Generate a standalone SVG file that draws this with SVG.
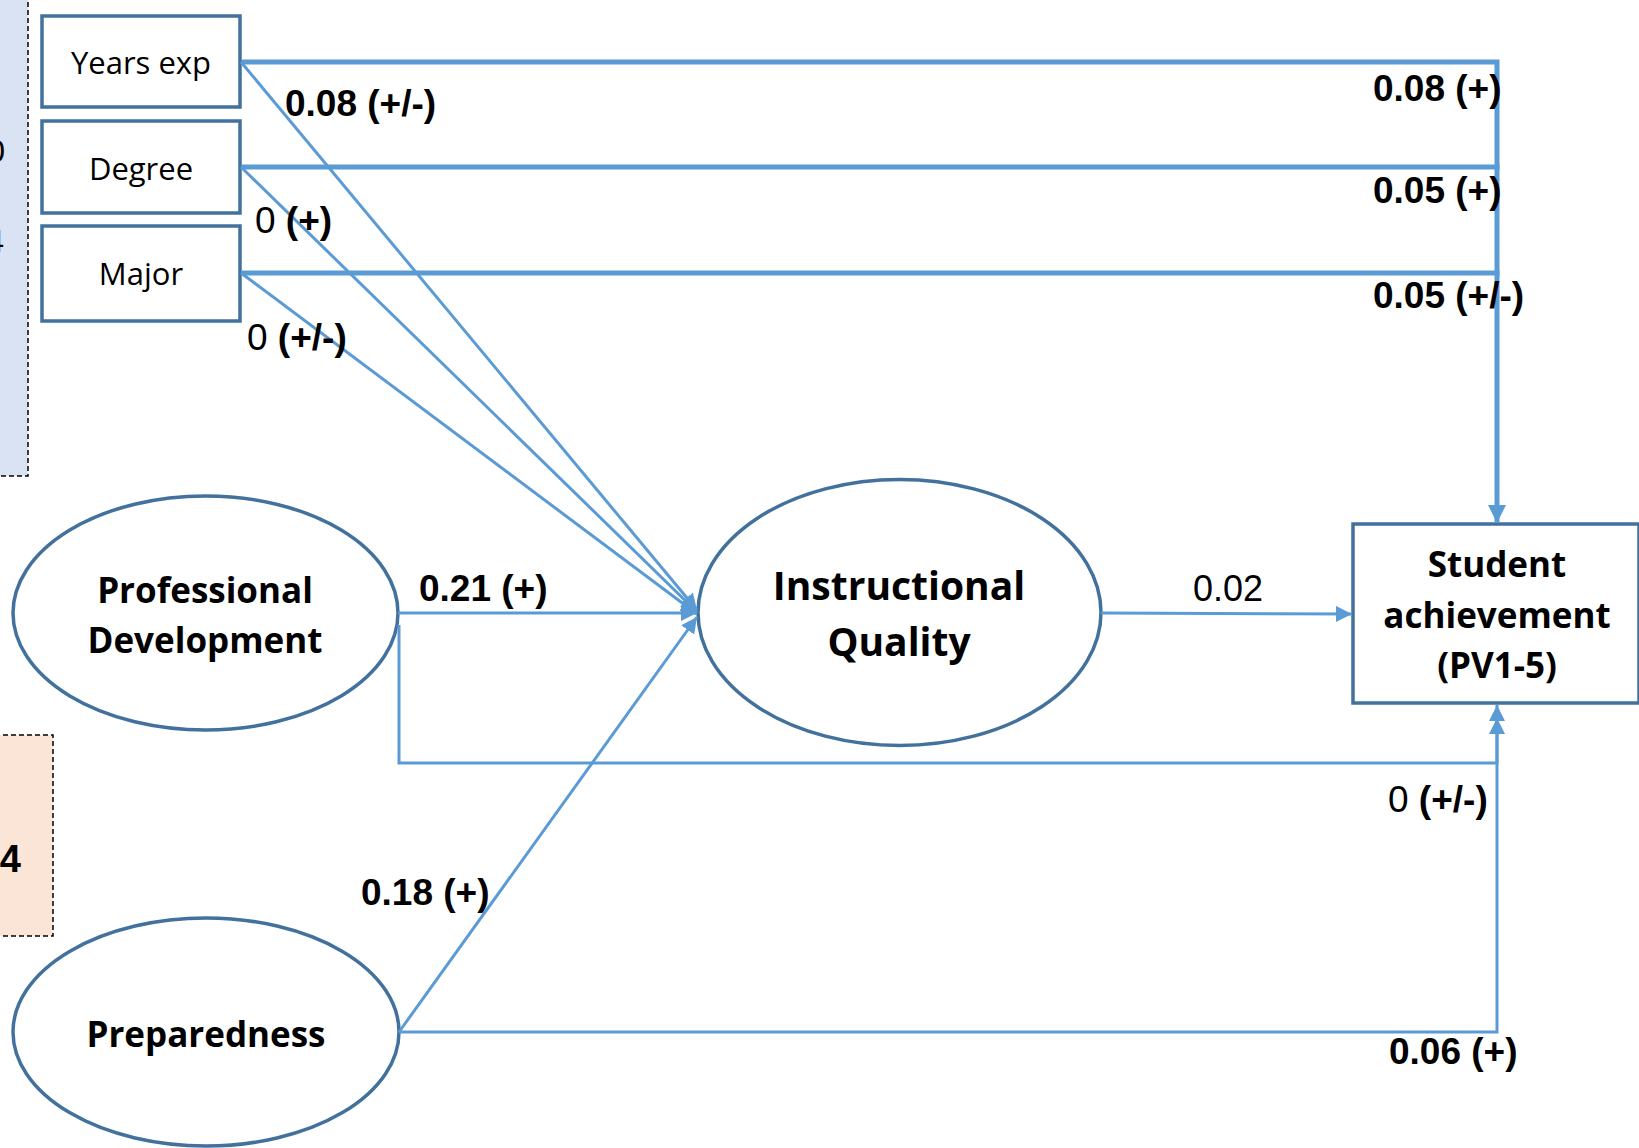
<svg xmlns="http://www.w3.org/2000/svg" width="1639" height="1148" viewBox="0 0 1639 1148">
<style>
.box{fill:#ffffff;stroke:#41719C;stroke-width:3.5}
.ell{fill:#ffffff;stroke:#41719C;stroke-width:3.5}
.panel{stroke:#000000;stroke-width:1.5;stroke-dasharray:5,3}
.cn{fill:none;stroke:#5B9BD5;stroke-width:3}
.thick{stroke-width:5}
.bt{font-family:"Open Sans","Noto Sans",sans-serif;font-size:31px;fill:#000;text-anchor:middle}
.nt{font-family:"Open Sans","Noto Sans",sans-serif;font-size:35px;font-weight:bold;fill:#000;text-anchor:middle}
.big{font-size:39px}
.lb{font-family:"Liberation Sans",Arial,sans-serif;font-size:37px;font-weight:bold;fill:#000}
.rg{font-weight:normal}
.sm{font-size:36px}
</style>
<defs>
<marker id="arr" markerUnits="userSpaceOnUse" markerWidth="16" markerHeight="16" refX="16" refY="8" orient="auto">
<path d="M0,0 L16,8 L0,16 z" fill="#5B9BD5"/>
</marker>
<marker id="arrL" markerUnits="userSpaceOnUse" markerWidth="18" markerHeight="18" refX="18" refY="9" orient="auto">
<path d="M0,0 L18,9 L0,18 z" fill="#5B9BD5"/>
</marker>
</defs>
<rect width="1639" height="1148" fill="#ffffff"/>
<g id="panels">
<path d="M-5,-5 H28 V476 H-5 z" fill="#DAE3F3" class="panel"/>
<text x="5" y="162" font-family="Liberation Sans,Arial,sans-serif" font-size="32" text-anchor="end">0</text>
<text x="4" y="252" font-family="Liberation Sans,Arial,sans-serif" font-size="32" text-anchor="end">4</text>
<path d="M-5,735 H53 V936 H-5 z" fill="#FBE5D6" class="panel"/>
<text x="21" y="872" font-family="Liberation Sans,Arial,sans-serif" font-size="38" font-weight="bold" text-anchor="end">4</text>
</g>
<g id="node-years">
<rect class="box" x="42" y="16" width="198" height="91"/>
<text class="bt" x="141" y="74">Years exp</text>
</g>
<g id="node-degree">
<rect class="box" x="42" y="121" width="198" height="92"/>
<text class="bt" x="141" y="180">Degree</text>
</g>
<g id="node-major">
<rect class="box" x="42" y="226" width="198" height="95"/>
<text class="bt" x="141" y="285">Major</text>
</g>
<g id="node-pd">
<ellipse class="ell" cx="205.5" cy="613" rx="192.5" ry="117"/>
<text class="nt" x="205" y="603">Professional</text>
<text class="nt" x="205" y="653">Development</text>
</g>
<g id="node-iq">
<ellipse class="ell" cx="899.5" cy="612.5" rx="201.5" ry="133"/>
<text class="nt big" x="899" y="600">Instructional</text>
<text class="nt big" x="899" y="656">Quality</text>
</g>
<g id="node-prep">
<ellipse class="ell" cx="206" cy="1032" rx="193" ry="114"/>
<text class="nt" x="206" y="1047">Preparedness</text>
</g>
<g id="node-sa">
<rect class="box" x="1353" y="524" width="286" height="179"/>
<text class="nt" x="1497" y="577">Student</text>
<text class="nt" x="1497" y="628">achievement</text>
<text class="nt" x="1497" y="678">(PV1-5)</text>
</g>
<g id="connectors">
<path class="cn thick" d="M241,62 H1497 V523" marker-end="url(#arrL)"/>
<path class="cn thick" d="M241,167 H1499.5"/>
<path class="cn thick" d="M241,273 H1499.5"/>
<path class="cn" d="M241,62 L697,610" marker-end="url(#arr)"/>
<path class="cn" d="M241,167 L697,612" marker-end="url(#arr)"/>
<path class="cn" d="M241,273 L697,614" marker-end="url(#arr)"/>
<path class="cn" d="M398,613 H697" marker-end="url(#arr)"/>
<path class="cn" d="M399,1032 L697,617" marker-end="url(#arr)"/>
<path class="cn" d="M1101,613 L1352,614" marker-end="url(#arr)"/>
<path class="cn" d="M399,625 V763 H1497 V705" marker-end="url(#arr)"/>
<path class="cn" d="M399,1032 H1497 V718" marker-end="url(#arr)"/>
</g>
<g id="labels">
<text class="lb" x="285" y="116">0.08 (+/-)</text>
<text class="lb" x="255" y="233"><tspan class="rg">0</tspan> (+)</text>
<text class="lb" x="247" y="350"><tspan class="rg">0</tspan> (+/-)</text>
<text class="lb" x="1373" y="101">0.08 (+)</text>
<text class="lb" x="1373" y="203">0.05 (+)</text>
<text class="lb" x="1373" y="308">0.05 (+/-)</text>
<text class="lb" x="419" y="601">0.21 (+)</text>
<text class="lb rg sm" x="1193" y="601">0.02</text>
<text class="lb" x="1388" y="812"><tspan class="rg">0</tspan> (+/-)</text>
<text class="lb" x="1389" y="1064">0.06 (+)</text>
<text class="lb" x="361" y="905">0.18 (+)</text>
</g>
</svg>
